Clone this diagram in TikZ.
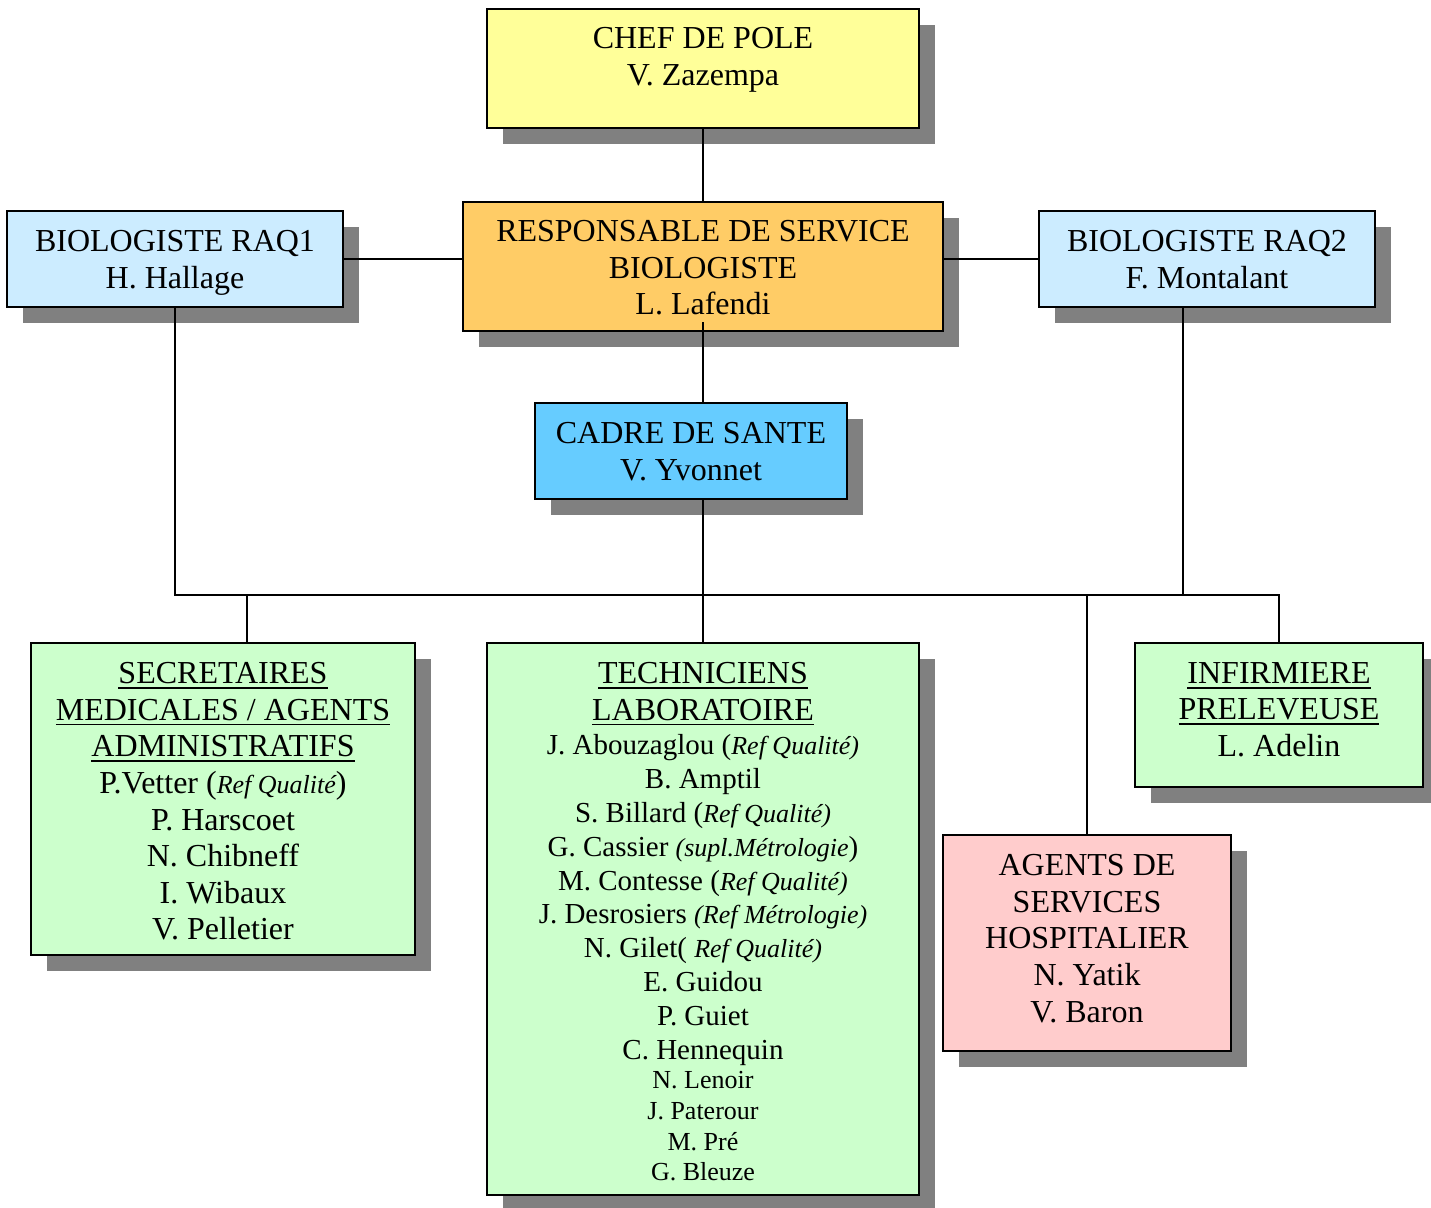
\documentclass[tikz,border=0pt]{standalone}
\usepackage{fontspec}
\setmainfont{Liberation Serif}
\usetikzlibrary{shadows}

\definecolor{shadowgray}{HTML}{808080}
\definecolor{chefyellow}{HTML}{FFFF99}
\definecolor{resporange}{HTML}{FFCC66}
\definecolor{raqblue}{HTML}{CCECFF}
\definecolor{cadreblue}{HTML}{66CCFF}
\definecolor{staffgreen}{HTML}{CCFFCC}
\definecolor{agentpink}{HTML}{FFCCCC}

% italic remarks set beside the names
\newcommand{\remark}[1]{{\fontsize{13}{15}\selectfont\itshape #1}}
% underlined heading words
\newsavebox{\ulbox}
\newcommand{\ulined}[1]{\sbox{\ulbox}{#1}\rlap{\rule[-2.6pt]{\wd\ulbox}{0.9pt}}\usebox{\ulbox}}

\tikzset{
  box/.style={draw=black, line width=1pt, inner sep=0pt, outer sep=0pt,
    anchor=north west,
    general shadow={fill=shadowgray, shadow xshift=8pt, shadow yshift=-8pt}},
  lbl/.style={inner sep=0pt, outer sep=0pt, align=center, anchor=north,
    font=\fontsize{16}{18.3}\selectfont, execute at begin node=\strut},
  namelist/.style={lbl, font=\fontsize{14.5}{16.95}\selectfont},
  smalllist/.style={lbl, font=\fontsize{13}{15.35}\selectfont},
  link/.style={line width=1pt},
}

\begin{document}
\begin{tikzpicture}[x=0.5pt, y=-0.5pt]
\useasboundingbox (0,0) rectangle (1431,1207);
\clip (0,0) rectangle (1431,1207);

% boxes
\node[box, fill=chefyellow, minimum width=216pt, minimum height=59.5pt] (chef) at (487,9) {};
\node[box, fill=resporange, minimum width=240pt, minimum height=64.5pt] (resp) at (463,202) {};
\node[box, fill=raqblue, minimum width=168pt, minimum height=48pt] (raq1) at (7,211) {};
\node[box, fill=raqblue, minimum width=168pt, minimum height=48pt] (raq2) at (1039,211) {};
\node[box, fill=cadreblue, minimum width=156pt, minimum height=48pt] (cadre) at (535,403) {};
\node[box, fill=staffgreen, minimum width=192pt, minimum height=156pt] (sec) at (31,643) {};
\node[box, fill=staffgreen, minimum width=216pt, minimum height=276pt] (tech) at (487,643) {};
\node[box, fill=staffgreen, minimum width=144pt, minimum height=72pt] (inf) at (1135,643) {};
\node[box, fill=agentpink, minimum width=144pt, minimum height=108pt] (ag) at (943,835) {};

% texts
\node[lbl] (chefT) at (703,27.4) {CHEF DE POLE\\V. Zazempa};
\node[lbl] (respT) at (703,220.4) {RESPONSABLE DE SERVICE\\BIOLOGISTE\\L. Lafendi};
\node[lbl] (raq1T) at (175,230.4) {BIOLOGISTE RAQ1\\H. Hallage};
\node[lbl] (raq2T) at (1207,230.4) {BIOLOGISTE RAQ2\\F. Montalant};
\node[lbl] (cadreT) at (691,422.4) {CADRE DE SANTE\\V. Yvonnet};
\node[lbl] (secT) at (223,662.4) {\ulined{SECRETAIRES}\\\ulined{MEDICALES / AGENTS}\\\ulined{ADMINISTRATIFS}\\
  P.Vetter (\remark{Ref Qualité})\\P. Harscoet\\N. Chibneff\\I. Wibaux\\V. Pelletier};
\node[lbl] (techT) at (703,662.4) {\ulined{TECHNICIENS}\\\ulined{LABORATOIRE}};
\node[namelist] (techN) at (703,734.3) {J. Abouzaglou (\remark{Ref Qualité)}\\B. Amptil\\
  S. Billard (\remark{Ref Qualité)}\\G. Cassier \remark{(supl.Métrologie})\\
  M. Contesse (\remark{Ref Qualité)}\\J. Desrosiers \remark{(Ref Métrologie)}\\
  N. Gilet( \remark{Ref Qualité)}\\E. Guidou\\P. Guiet\\C. Hennequin};
\node[smalllist] (techS) at (703,1071.5) {N. Lenoir\\J. Paterour\\M. Pré\\G. Bleuze};
\node[lbl] (infT) at (1279,662.4) {\ulined{INFIRMIERE}\\\ulined{PRELEVEUSE}\\L. Adelin};
\node[lbl] (agT) at (1087,854.4) {AGENTS DE\\SERVICES\\HOSPITALIER\\N. Yatik\\V. Baron};

% connectors
\coordinate (bus) at (0,595);
\draw[link] (chef.south) -- (resp.north);
\draw[link] (raq1.east) -- (raq1.east -| resp.west);
\draw[link] (raq2.west -| resp.east) -- (raq2.west);
\draw[link] ([yshift=4.5pt]resp.south) -- (resp.south |- cadre.north);
\draw[link] (cadre.south -| tech.north) -- (tech.north);
\draw[link] (raq1.south) |- (inf.north |- bus) -- (inf.north);
\draw[link] ([xshift=-12pt]raq2.south) -- ([xshift=-12pt]raq2.south |- bus);
\draw[link] ([xshift=12pt]sec.north |- bus) -- ([xshift=12pt]sec.north);
\draw[link] (ag.north |- bus) -- (ag.north);
\end{tikzpicture}
\end{document}
